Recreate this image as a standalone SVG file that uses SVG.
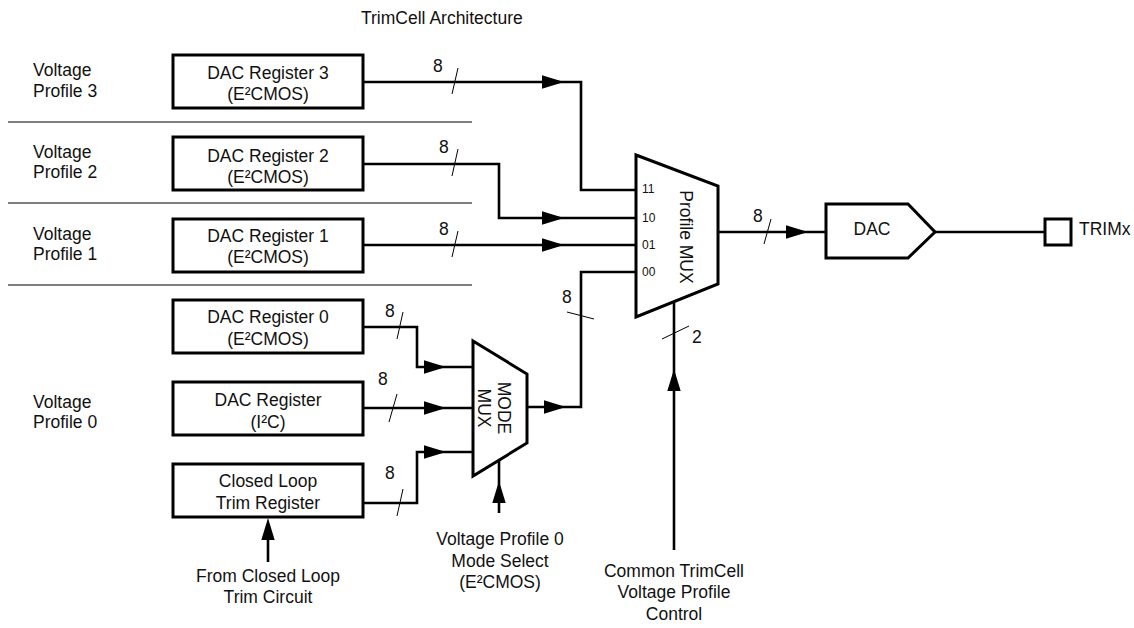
<svg xmlns="http://www.w3.org/2000/svg" xmlns:xlink="http://www.w3.org/1999/xlink" width="1134" height="628" viewBox="0 0 1134 628">
<style>
text{font-family:"Liberation Sans",Arial,sans-serif;font-size:17.5px;fill:#111}
.c{text-anchor:middle}
.s{font-size:12px}
.box{fill:#fff;stroke:#000;stroke-width:3}
.w{fill:none;stroke:#000;stroke-width:2.6}
.sl{stroke:#000;stroke-width:1}
.sep{stroke:#555;stroke-width:1.6}
.ah{fill:#000}
</style>
<defs>
<path id="ah" class="ah" d="M0,0 L-22,-6.7 L-22,6.7 Z"/>
</defs>
<rect width="1134" height="628" fill="#fff"/>
<text x="361" y="24">TrimCell Architecture</text>

<g id="separators">
<line class="sep" x1="8" y1="122" x2="472" y2="122" stroke="#888"/>
<line class="sep" x1="8" y1="203" x2="472" y2="203"/>
<line class="sep" x1="8" y1="285" x2="472" y2="285"/>
</g>

<g id="profile-labels">
<text x="33" y="76">Voltage</text><text x="33" y="97">Profile 3</text>
<text x="33" y="158">Voltage</text><text x="33" y="178">Profile 2</text>
<text x="33" y="240">Voltage</text><text x="33" y="260">Profile 1</text>
<text x="33" y="408">Voltage</text><text x="33" y="428">Profile 0</text>
</g>

<g id="connectors">
<!-- reg3 -->
<polyline class="w" points="364,82 581,82 581,190 636,190"/>
<use xlink:href="#ah" x="564" y="82"/>
<line class="sl" x1="458" y1="68" x2="452" y2="94"/>
<text x="433" y="72">8</text>
<!-- reg2 -->
<polyline class="w" points="364,164 499,164 499,218 636,218"/>
<use xlink:href="#ah" x="564" y="218"/>
<line class="sl" x1="458" y1="149" x2="452" y2="176"/>
<text x="439" y="153">8</text>
<!-- reg1 -->
<polyline class="w" points="364,245 636,245"/>
<use xlink:href="#ah" x="564" y="245"/>
<line class="sl" x1="458" y1="231" x2="452" y2="257"/>
<text x="439" y="235">8</text>
<!-- mux out to DAC -->
<polyline class="w" points="718,232 826,232"/>
<use xlink:href="#ah" x="808" y="232"/>
<line class="sl" x1="771" y1="219" x2="764" y2="244"/>
<text x="753" y="222">8</text>
<!-- DAC to TRIMx -->
<polyline class="w" points="935,232 1045,232"/>
<!-- reg0 -->
<polyline class="w" points="364,327 417,327 417,367 473,367"/>
<use xlink:href="#ah" x="446" y="367"/>
<line class="sl" x1="403" y1="312" x2="397" y2="339"/>
<text x="385" y="317">8</text>
<!-- reg I2C -->
<polyline class="w" points="364,408 473,408"/>
<use xlink:href="#ah" x="446" y="408"/>
<line class="sl" x1="397" y1="394" x2="389" y2="422"/>
<text x="378" y="385">8</text>
<!-- closed loop -->
<polyline class="w" points="364,503 417,503 417,452 473,452"/>
<use xlink:href="#ah" x="446" y="452"/>
<line class="sl" x1="403" y1="489" x2="397" y2="516"/>
<text x="385" y="479">8</text>
<!-- mode mux out -->
<polyline class="w" points="527,407 581,407 581,272 636,272"/>
<use xlink:href="#ah" x="566" y="407"/>
<line class="sl" x1="567" y1="312" x2="594" y2="319"/>
<text x="562" y="303">8</text>
<!-- closed loop trim circuit input -->
<line class="w" x1="268" y1="562" x2="268" y2="530"/>
<use xlink:href="#ah" transform="translate(268,518) rotate(-90)"/>
<!-- mode select -->
<line class="w" x1="499" y1="513" x2="499" y2="460"/>
<use xlink:href="#ah" transform="translate(499,481) rotate(-90)"/>
<!-- profile control -->
<line class="w" x1="674" y1="550" x2="674" y2="302"/>
<use xlink:href="#ah" transform="translate(674,369) rotate(-90)"/>
<line class="sl" x1="662" y1="339" x2="689" y2="326"/>
<text x="692" y="343">2</text>
</g>

<g id="reg3"><rect class="box" x="173" y="55" width="190" height="53"/>
<text class="c" x="268" y="79">DAC Register 3</text><text class="c" x="268" y="100">(E²CMOS)</text></g>
<g id="reg2"><rect class="box" x="173" y="137" width="190" height="53"/>
<text class="c" x="268" y="162">DAC Register 2</text><text class="c" x="268" y="183">(E²CMOS)</text></g>
<g id="reg1"><rect class="box" x="173" y="219" width="190" height="53"/>
<text class="c" x="268" y="242">DAC Register 1</text><text class="c" x="268" y="263">(E²CMOS)</text></g>
<g id="reg0"><rect class="box" x="173" y="300" width="190" height="53"/>
<text class="c" x="268" y="323">DAC Register 0</text><text class="c" x="268" y="345">(E²CMOS)</text></g>
<g id="regi2c"><rect class="box" x="173" y="382" width="190" height="53"/>
<text class="c" x="268" y="406">DAC Register</text><text class="c" x="268" y="428">(I²C)</text></g>
<g id="regcl"><rect class="box" x="173" y="464" width="190" height="53"/>
<text class="c" x="268" y="487">Closed Loop</text><text class="c" x="268" y="509">Trim Register</text></g>

<g id="profile-mux">
<polygon class="box" stroke-width="2.6" points="636,155 718,186 718,284 636,317"/>
<text class="s" x="642" y="193">11</text>
<text class="s" x="642" y="222">10</text>
<text class="s" x="642" y="249">01</text>
<text class="s" x="642" y="276">00</text>
<text class="c" transform="translate(680,237) rotate(90)">Profile MUX</text>
</g>

<g id="mode-mux">
<polygon class="box" stroke-width="2.6" points="473,341 527,374 527,443 473,476"/>
<text class="c" transform="translate(498,408) rotate(90)">MODE</text>
<text class="c" transform="translate(478,408) rotate(90)">MUX</text>
</g>

<g id="dac">
<polygon class="box" stroke-width="2.6" points="826,204 908,204 935,232 908,258 826,258"/>
<text class="c" x="872" y="235">DAC</text>
</g>

<g id="trimx">
<rect class="box" stroke-width="2.6" x="1045" y="219" width="26" height="26"/>
<text x="1079" y="235">TRIMx</text>
</g>

<g id="input-labels">
<text class="c" x="268" y="582">From Closed Loop</text>
<text class="c" x="268" y="603">Trim Circuit</text>
<text class="c" x="500" y="545">Voltage Profile 0</text>
<text class="c" x="500" y="567">Mode Select</text>
<text class="c" x="500" y="588">(E²CMOS)</text>
<text class="c" x="674" y="577">Common TrimCell</text>
<text class="c" x="674" y="598">Voltage Profile</text>
<text class="c" x="674" y="620">Control</text>
</g>
</svg>
